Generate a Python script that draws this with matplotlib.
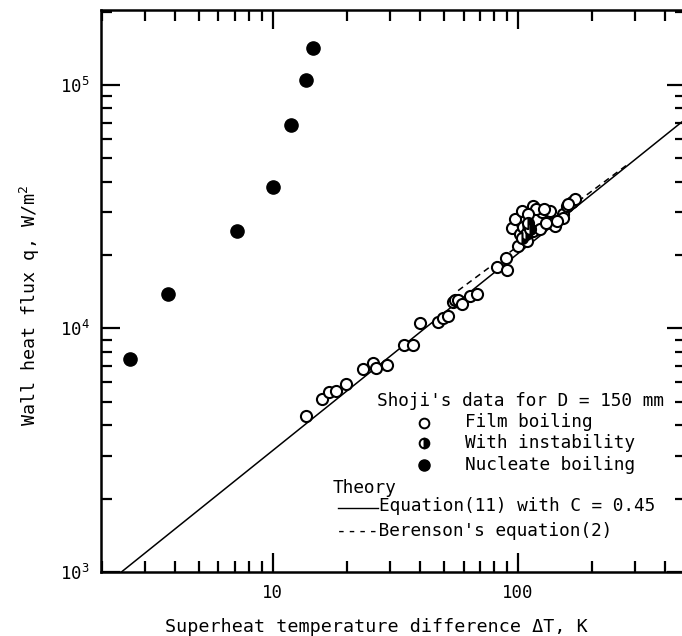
import matplotlib
matplotlib.use("Agg")
import matplotlib.pyplot as plt
from matplotlib.lines import Line2D

# ---------------- data ----------------
film_dT = [13.7, 15.8, 17.0, 18.1, 19.8, 23.4, 25.5, 26.3, 29.1, 34.3, 37.4,
           39.8, 47.3, 49.6, 52.0, 54.5, 55.3, 57.0, 58.9, 63.7, 67.8, 81.8,
           89.9, 89.3, 100, 94.2, 97.2, 103.5, 115.4, 124.9, 135, 137, 141.7,
           153, 158, 166, 171, 102, 115, 123, 108.6, 119, 160, 153, 110, 130,
           145, 128]
film_q = [4.36e3, 5.14e3, 5.47e3, 5.52e3, 5.89e3, 6.84e3, 7.18e3, 6.89e3, 7.06e3,
          8.59e3, 8.59e3, 1.05e4, 1.06e4, 1.10e4, 1.12e4, 1.28e4, 1.31e4, 1.31e4,
          1.26e4, 1.36e4, 1.38e4, 1.78e4, 1.74e4, 1.94e4, 2.18e4, 2.59e4, 2.81e4,
          3.04e4, 3.19e4, 3.00e4, 3.04e4, 2.72e4, 2.64e4, 2.95e4, 3.19e4, 3.29e4,
          3.40e4, 2.44e4, 2.52e4, 2.55e4, 2.28e4, 3.09e4, 3.24e4, 2.85e4, 2.95e4,
          2.70e4, 2.75e4, 3.10e4]

instab_dT = [105, 108, 112, 104, 110]
instab_q = [2.60e4, 2.45e4, 2.55e4, 2.35e4, 2.70e4]

nucleate_dT = [2.62, 3.74, 7.17, 10.0, 11.9, 13.6, 14.6]
nucleate_q = [7.5e3, 1.39e4, 2.51e4, 3.8e4, 6.84e4, 1.05e5, 1.42e5]

eq11_dT = [2.41, 500]
eq11_q = [1.0e3, 7.45e4]

berenson_dT = [57, 280]
berenson_q = [1.43e4, 4.71e4]

x_major = [10, 100]
x_major_labels = ["10", "100"]
x_minor = [2, 3, 4, 5, 6, 7, 8, 9, 20, 30, 40, 50, 60, 70, 80, 90, 200, 300, 400]
y_major = [1e3, 1e4, 1e5]
y_major_labels = [r"$10^3$", r"$10^4$", r"$10^5$"]
y_minor = [m * d for d in (1e3, 1e4) for m in range(2, 10)] + [2e5]

# ---------------- style ----------------
plt.rcParams['font.family'] = ['DejaVu Sans Mono', 'DejaVu Sans']
plt.rcParams['mathtext.fontset'] = 'custom'
plt.rcParams['mathtext.rm'] = 'DejaVu Sans Mono'
plt.rcParams['mathtext.it'] = 'DejaVu Sans Mono'

W, H = 682, 636
fig = plt.figure(figsize=(W / 100, H / 100), dpi=100)
ax = fig.add_axes([100.5 / W, 64 / H, 585.5 / W, 562 / H])
ax.set_xscale('log')
ax.set_yscale('log')
ax.set_xlim(1.98, 485)
ax.set_ylim(1e3, 2.03e5)

for s in ax.spines.values():
    s.set_linewidth(1.8)

ax.set_xticks(x_major)
ax.set_xticklabels(x_major_labels)
ax.set_xticks(x_minor, minor=True)
ax.set_xticklabels([], minor=True)
ax.set_yticks(y_major)
ax.set_yticklabels(y_major_labels)
ax.set_yticks(y_minor, minor=True)
ax.set_yticklabels([], minor=True)

ax.tick_params(which='both', direction='in', top=True, right=True, width=1.6,
               labelsize=12.5)
ax.tick_params(which='major', length=13.5)
ax.tick_params(which='minor', length=8)
ax.tick_params(axis='x', which='major', pad=9)
ax.tick_params(axis='y', which='major', pad=8)

# theory lines
ax.plot(eq11_dT, eq11_q, color='black', lw=1.1)
ax.plot(berenson_dT, berenson_q, color='black', lw=1.1, ls=(0, (4, 3)))

# data
ax.plot(film_dT, film_q, ls='none', marker='o', ms=8, mfc='white', mec='black', mew=1.5)
ax.plot(instab_dT, instab_q, ls='none', marker='o', ms=8, mfc='black', mec='black',
        mew=1.5, fillstyle='right', markerfacecoloralt='white')
ax.plot(nucleate_dT, nucleate_q, ls='none', marker='o', ms=9.5, mfc='black', mec='black')


def fx(x):
    return x / W


def fy(y):
    return 1 - y / H


# axis titles
fig.text(fx(376), fy(627), "Superheat temperature difference \u0394T, K",
         fontsize=13.2, ha='center', va='center')
fig.text(fx(30), fy(305), r"Wall heat flux q, W/m$^2$", fontsize=13.2,
         rotation=90, ha='center', va='center')

fs = 12.8
fig.text(fx(377), fy(401), "Shoji's data for D = 150 mm", fontsize=fs, va='center')
fig.text(fx(465), fy(422), "Film boiling", fontsize=fs, va='center')
fig.text(fx(465), fy(443), "With instability", fontsize=fs, va='center')
fig.text(fx(465), fy(465), "Nucleate boiling", fontsize=fs, va='center')
fig.text(fx(333), fy(488), "Theory", fontsize=fs, va='center')
fig.text(fx(379), fy(506), "Equation(11) with C = 0.45", fontsize=fs, va='center')
fig.text(fx(336), fy(531), "----Berenson's equation(2)", fontsize=fs, va='center')

fig.add_artist(Line2D([fx(338), fx(378)], [fy(508), fy(508)], color='black', lw=1.0))
fig.add_artist(Line2D([fx(424)], [fy(423)], marker='o', ms=7, mfc='white', mec='black', mew=1.4))
fig.add_artist(Line2D([fx(424)], [fy(443)], marker='o', ms=7, mfc='black', mec='black', mew=1.4,
                      fillstyle='right', markerfacecoloralt='white'))
fig.add_artist(Line2D([fx(424)], [fy(465)], marker='o', ms=8, mfc='black', mec='black'))

fig.savefig("out.png", dpi=100)
